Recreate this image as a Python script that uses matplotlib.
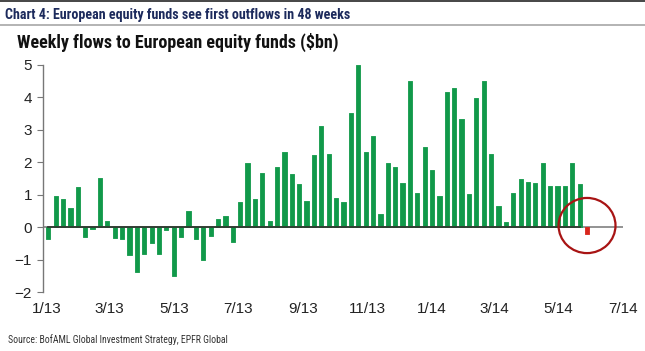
### weekly flows to European equity funds

import matplotlib
matplotlib.use('Agg')
import matplotlib.pyplot as plt
import matplotlib.dates as mdates
from matplotlib.patches import Ellipse, Rectangle
from matplotlib import font_manager
import pandas as pd

first_week = '2013-01-02'
flows = [-0.38, 0.97, 0.87, 0.60, 1.23, -0.29, -0.07, 1.50, 0.19, -0.33,
         -0.35, -0.86, -1.38, -0.83, -0.48, -0.84, -0.09, -1.50, -0.31, 0.49,
         -0.38, -1.00, -0.28, 0.26, 0.35, -0.45, 0.76, 1.98, 0.86, 1.67,
         0.18, 1.84, 2.32, 1.65, 1.34, 0.80, 2.21, 3.13, 2.27, 0.90,
         0.77, 3.51, 4.99, 2.31, 2.80, 0.39, 1.97, 1.85, 1.36, 4.49,
         1.06, 2.46, 1.76, 0.95, 4.16, 4.30, 3.32, 1.01, 3.99, 4.52,
         2.26, 0.65, 0.16, 1.06, 1.49, 1.39, 1.36, 1.99, 1.28, 1.26,
         1.26, 1.97, 1.32, -0.20]
tick_dates = ['2013-01-01', '2013-03-01', '2013-05-01', '2013-07-01', '2013-09-01',
              '2013-11-01', '2014-01-01', '2014-03-01', '2014-05-01', '2014-07-01']
tick_labels = ['1/13', '3/13', '5/13', '7/13', '9/13',
               '11/13', '1/14', '3/14', '5/14', '7/14']
y_ticks = [-2, -1, 0, 1, 2, 3, 4, 5]

weeks = pd.date_range(first_week, periods=len(flows), freq='7D')
ticks = pd.to_datetime(tick_dates)

names = {f.name for f in font_manager.fontManager.ttflist}
narrow = 'Liberation Sans'
for cand in ['Roboto Condensed', 'Liberation Sans Narrow', 'Open Sans Condensed']:
    if cand in names:
        narrow = cand
        break
plt.rcParams['font.family'] = ['Liberation Sans', 'DejaVu Sans']

fig = plt.figure(figsize=(6.45, 3.51), dpi=100)
ax = fig.add_axes([0.0667, 0.168, 0.899, 0.647])

green = '#11994a'
red = '#d9261c'
colors = [green] * (len(flows) - 1) + [red]
ax.bar(weeks, flows, width=4.0, color=colors, edgecolor=colors,
       linewidth=0.6, joinstyle='round', zorder=3)

ax.axhline(0, color='#8a8a8a', linewidth=1.3, zorder=2)
ax.plot([weeks[0], weeks[-2]], [0, 0], color='#2f3a30', linewidth=1.3, zorder=4)

# red circle round the last week
ax.add_patch(Ellipse((mdates.date2num(weeks[-1]), 0.05), width=54, height=1.7,
                     fill=False, edgecolor='#a81414', linewidth=1.6, zorder=5))

ax.set_xlim(pd.Timestamp('2012-12-28'), pd.Timestamp('2014-07-01'))
ax.set_ylim(-2, 5)
ax.set_yticks(y_ticks)
ax.set_xticks(ticks)
ax.set_xticklabels(tick_labels)

for s in ['top', 'right', 'bottom']:
    ax.spines[s].set_visible(False)
ax.spines['left'].set_color('#777777')
ax.spines['left'].set_linewidth(1.0)
ax.tick_params(axis='y', length=4, color='#777777', labelsize=11, pad=4, labelcolor='#222222')
ax.tick_params(axis='x', length=0, labelsize=11, pad=7, labelcolor='#222222')

# header
fig.add_artist(Rectangle((0, 0.993), 1, 0.007, transform=fig.transFigure,
                         color='#4a4a4a', lw=0))
fig.add_artist(Rectangle((0, 0.925), 1, 0.006, transform=fig.transFigure,
                         color='#b5b5b5', lw=0))
t1 = fig.text(0.008, 0.958, 'Chart 4: European equity funds see first outflows in 48 weeks',
              fontsize=12, fontweight='bold', family=narrow, color='#1c2a5c', va='center')
t2 = fig.text(0.027, 0.878, 'Weekly flows to European equity funds ($bn)',
              fontsize=13, fontweight='bold', family=narrow, color='#111111', va='center')
t3 = fig.text(0.012, 0.034, 'Source: BofAML Global Investment Strategy, EPFR Global',
              fontsize=7, family=narrow, color='#333333', va='center')

# shrink the header texts to the widths seen in the original
r = fig.canvas.get_renderer()
for t, w in [(t1, 345), (t2, 344), (t3, 254)]:
    cur = t.get_window_extent(renderer=r).width
    if cur > w:
        t.set_fontsize(t.get_fontsize() * w / cur)

fig.savefig('out.png', dpi=100)
